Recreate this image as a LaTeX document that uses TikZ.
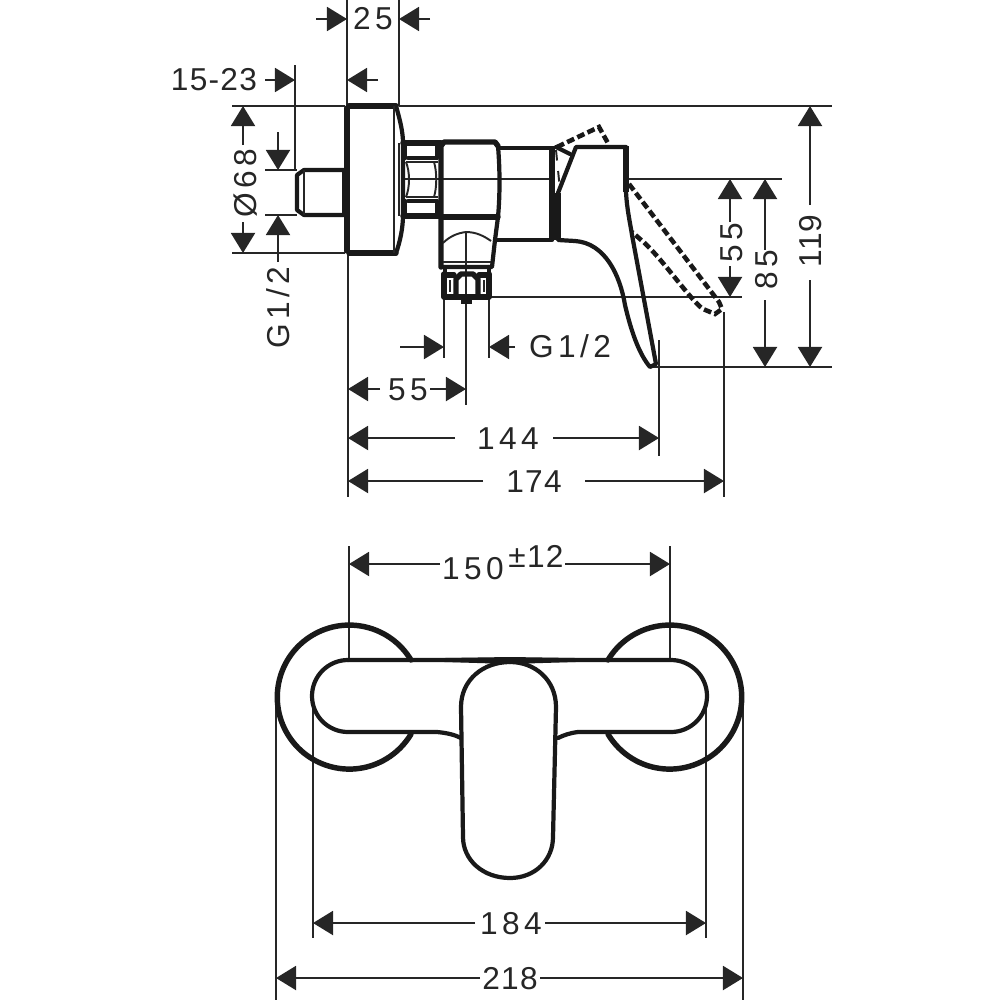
\documentclass[tikz,border=0pt]{standalone}
\usepackage{fontspec}
\setmainfont{Liberation Sans}
\newfontfamily\widefont[LetterSpace=14]{Liberation Sans}
\newfontfamily\midfont[LetterSpace=4]{Liberation Sans}
\usetikzlibrary{arrows.meta}
\tikzset{
  outline/.style={line width=1.2pt,line join=round,line cap=round,black!90},
  heavy/.style={line width=1.55pt,line join=round,line cap=round,black!90},
  fine/.style={line width=0.55pt,black!85},
  hidden/.style={line width=1.3pt,black!90,dash pattern=on 2.2pt off 1pt},
  dimline/.style={line width=0.55pt,black!85,-{Triangle[length=0.2cm,width=0.24cm]}},
  dimtext/.style={inner sep=0pt,black!85,font=\fontsize{9}{10.8}\selectfont\widefont},
  dimplain/.style={inner sep=0pt,black!85,font=\fontsize{9}{10.8}\selectfont\midfont}
}
\begin{document}
\begin{tikzpicture}[x=0.01cm,y=-0.01cm]
  \useasboundingbox (0,0) rectangle (1000,1000);
  % side view
  \draw[fine] (347,0) -- (347,106) (399,0) -- (399,106);
  \draw[fine] (295,65) -- (295,170);
  \draw[fine] (232,106) -- (345,106) (399,106) -- (832,106);
  \draw[fine] (232,253) -- (345,253);
  \draw[fine] (265,170) -- (297,170) (265,215) -- (297,215);
  \draw[fine] (348,255) -- (348,497);
  \draw[fine] (403,179) -- (552,179) (626,179) -- (782,179);
  \draw[fine] (489,297) -- (742,297);
  \draw[fine] (650,367) -- (832,367);
  \draw[fine] (444,297) -- (444,358) (489,297) -- (489,358);
  \draw[fine] (466,232) -- (466,405);
  \draw[fine] (659,340) -- (659,456) (724,312) -- (724,497);
  % flange
  \draw[heavy] (349,106) -- (396,106) (347,108) -- (347,251) (349,253) -- (396,253);
  \draw[outline] (396,106) .. controls (400,120) and (403,132) .. (403,143)
    -- (403,215) .. controls (403,228) and (400,242) .. (396,253);
  \draw[fine] (394,106) -- (394,253) (399,143) -- (399,216);
  % nipple
  \draw[outline] (345,170) -- (304,170) -- (297,175) -- (297,210) -- (304,215) -- (345,215);
  \draw[fine] (304,170) -- (304,215);
  \draw[line width=2.2pt,black!90] (346,170) -- (346,215);
  % nut
  \draw[heavy] (403,143) -- (441,143) (403,216) -- (441,216);
  \draw[outline] (408,158) -- (436,158) (408,201) -- (436,201);
  \draw[fine] (406,162) -- (438,162) (406,197) -- (438,197);
  \draw[outline] (405,146) -- (405,158) (405,201) -- (405,213) (437,146) -- (437,158) (437,201) -- (437,213);
  \draw[fine] (406,162) .. controls (410,172) and (410,187) .. (406,197);
  \draw[fine] (434,162) .. controls (437,172) and (437,187) .. (434,197);
  % body
  \draw[heavy] (441,267) -- (441,146) -- (444,142) -- (495,142) -- (498,146);
  \draw[outline] (498,146) .. controls (500,170) and (500,195) .. (498,217)
    -- (495,240) -- (492,267) -- (441,267);
  \draw[heavy] (441,217) -- (498,217);
  \draw[fine] (443,262) -- (491,262);
  \draw[fine] (443,243) .. controls (450,236) and (458,233) .. (466,232)
    .. controls (476,232) and (484,236) .. (491,241);
  \draw[outline] (445,267) -- (445,274) (489,267) -- (489,274);
  % lower nut
  \draw[heavy] (444,274) -- (444,297) -- (489,297) -- (489,274);
  \draw[heavy] (444,275) -- (454,275) (479,275) -- (489,275);
  \draw[heavy] (456,294) -- (456,279) -- (461,274) -- (473,274) -- (478,279) -- (478,294);
  \draw[fine] (450,280) -- (450,292) (484,280) -- (484,292);
  \fill[black!90] (461,297) rectangle (472,304);
  % tube
  \draw[outline] (498,148) -- (552,148) (497,240) -- (552,240);
  \draw[line width=1.9pt,black!90] (552,146) -- (552,240);
  % lever
  \draw[outline] (558,240) -- (558,193) -- (576,147) -- (626,147)
    -- (626,192) .. controls (627,210) and (630,222) .. (632,235) -- (656,364)
    -- (650,367) .. controls (640,355) and (632,335) .. (625,305)
    .. controls (620,275) and (605,243) .. (575,241) -- cycle;
  \draw[line width=1.7pt,black!90] (626,146) -- (626,192) (558,240) -- (558,193);
  \draw[outline] (556,147) -- (570,154);
  \draw[fine,dashed] (556,150) -- (560,190);
  % lever in the second position
  \draw[hidden] (557,147) -- (599,127) -- (609,145);
  \draw[hidden] (629,184) -- (719,302) -- (722,309) -- (715,314) -- (703,309)
    .. controls (690,300) and (660,255) .. (640,239) -- (632,232);
  % dimensions of side view
  \draw[dimline] (316,19) -- (347,19);
  \draw[dimline] (430,19) -- (399,19);
  \node[dimtext] (wFlange) at (373,19) {25};
  \node[dimplain] (lStub) at (214,80) {15-23};
  \draw[dimline] (265,80) -- (295,80);
  \draw[dimline] (378,80) -- (347,80);
  \draw[dimline] (243,145) -- (243,106);
  \draw[dimline] (243,222) -- (243,253);
  \node[dimtext,rotate=90] (dFlange) at (246,183) {Ø68};
  \draw[dimline] (278,132) -- (278,170);
  \draw[dimline] (278,262) -- (278,215);
  \node[dimtext,rotate=90] (gLeft) at (278,308) {G1/2};
  \draw[dimline] (400,347) -- (444,347);
  \draw[dimline] (515,347) -- (489,347);
  \node[dimtext] (gBottom) at (570,346) {G1/2};
  \draw[dimline] (380,389) -- (348,389);
  \draw[dimline] (430,389) -- (466,389);
  \node[dimtext] (xOutlet) at (408,390) {55};
  \draw[dimline] (455,438) -- (348,438);
  \draw[dimline] (553,438) -- (659,438);
  \node[dimtext] (xLever) at (508,439) {144};
  \draw[dimline] (483,481) -- (348,481);
  \draw[dimline] (585,481) -- (724,481);
  \node[dimplain] (xTotal) at (534,482) {174};
  \draw[dimline] (730,222) -- (730,179);
  \draw[dimline] (730,266) -- (730,297);
  \node[dimtext,rotate=90] (yOutlet) at (732,243) {55};
  \draw[dimline] (765,250) -- (765,179);
  \draw[dimline] (765,300) -- (765,367);
  \node[dimtext,rotate=90] (yLever) at (767,270) {85};
  \draw[dimline] (810,205) -- (810,106);
  \draw[dimline] (810,280) -- (810,367);
  \node[dimplain,rotate=90] (yTotal) at (811,241) {119};
  % front view
  \draw[fine] (349,546) -- (349,660) (670,546) -- (670,660);
  \draw[fine] (313,696) -- (313,938) (706,696) -- (706,938);
  \draw[fine] (276,697) -- (276,1000) (743,697) -- (743,1000);
  \draw[heavy] (411,660) arc[start angle=-31,end angle=-329,radius=72];
  \draw[heavy] (608,660) arc[start angle=-149,end angle=149,radius=72];
  \draw[outline] (348,660) -- (671,660) arc[start angle=-90,end angle=90,radius=36]
    -- (578,732) .. controls (570,733) and (564,735) .. (558,738);
  \draw[outline] (348,660) arc[start angle=270,end angle=90,radius=36]
    -- (437,732) .. controls (448,733) and (455,735) .. (461,738);
  \fill[black!90] (412,658.5) -- (510,657) -- (608,658.5) -- (608,661) -- (510,664) -- (412,661) -- cycle;
  \draw[outline] (510,662) .. controls (535,662) and (556,680) .. (556,707)
    -- (553,837) .. controls (553,860) and (535,878) .. (510,878)
    .. controls (483,878) and (463,860) .. (463,837)
    -- (461,707) .. controls (461,680) and (483,662) .. (510,662) -- cycle;
  % dimensions of front view
  \draw[dimline] (440,564) -- (349,564);
  \draw[dimline] (565,564) -- (670,564);
  \node[dimtext] (xCentres) at (473,569) {150};
  \node[dimplain] (xTol) at (536,556) {±12};
  \draw[dimline] (475,923) -- (313,923);
  \draw[dimline] (545,923) -- (706,923);
  \node[dimtext] (xBody) at (511,924) {184};
  \draw[dimline] (480,978) -- (276,978);
  \draw[dimline] (540,978) -- (743,978);
  \node[dimplain] (xWidth) at (510,979) {218};
\end{tikzpicture}
\end{document}
